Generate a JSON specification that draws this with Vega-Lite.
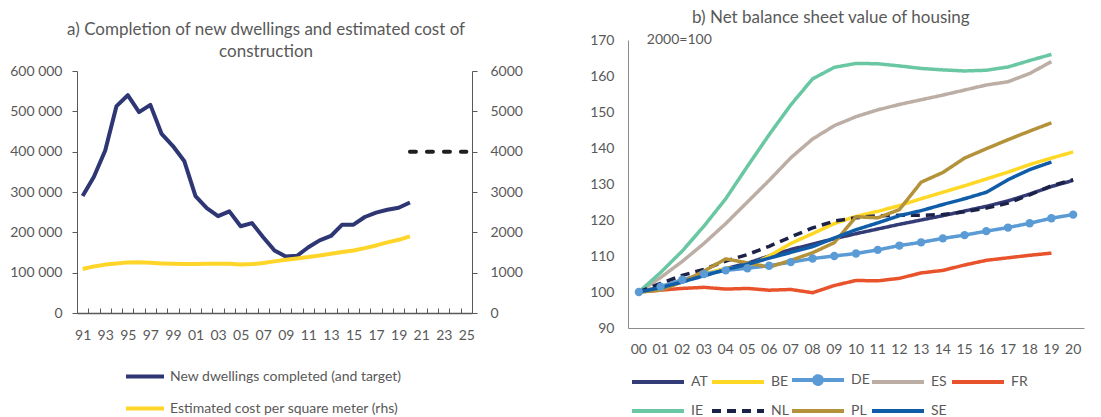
{
  "$schema": "https://vega.github.io/schema/vega-lite/v6.json",
  "background": "white",
  "padding": {"left": 9, "top": 9, "right": 5, "bottom": 0},
  "spacing": 66,
  "resolve": {"scale": {"color": "independent", "strokeDash": "independent"}, "legend": {"color": "independent", "strokeDash": "independent"}},
  "datasets": {
    "dw": [
      {"yr": "91", "dw": 290000, "cost": 1090, "tg": null},
      {"yr": "92", "dw": 338000, "cost": 1155, "tg": null},
      {"yr": "93", "dw": 403000, "cost": 1200, "tg": null},
      {"yr": "94", "dw": 513000, "cost": 1230, "tg": null},
      {"yr": "95", "dw": 540000, "cost": 1255, "tg": null},
      {"yr": "96", "dw": 498000, "cost": 1260, "tg": null},
      {"yr": "97", "dw": 516000, "cost": 1245, "tg": null},
      {"yr": "98", "dw": 444000, "cost": 1230, "tg": null},
      {"yr": "99", "dw": 414000, "cost": 1220, "tg": null},
      {"yr": "00", "dw": 377000, "cost": 1213, "tg": null},
      {"yr": "01", "dw": 290000, "cost": 1213, "tg": null},
      {"yr": "02", "dw": 260000, "cost": 1220, "tg": null},
      {"yr": "03", "dw": 240000, "cost": 1220, "tg": null},
      {"yr": "04", "dw": 252000, "cost": 1220, "tg": null},
      {"yr": "05", "dw": 215000, "cost": 1205, "tg": null},
      {"yr": "06", "dw": 223000, "cost": 1213, "tg": null},
      {"yr": "07", "dw": 188000, "cost": 1238, "tg": null},
      {"yr": "08", "dw": 155000, "cost": 1280, "tg": null},
      {"yr": "09", "dw": 140000, "cost": 1320, "tg": null},
      {"yr": "10", "dw": 142000, "cost": 1353, "tg": null},
      {"yr": "11", "dw": 163000, "cost": 1386, "tg": null},
      {"yr": "12", "dw": 180000, "cost": 1427, "tg": null},
      {"yr": "13", "dw": 191000, "cost": 1469, "tg": null},
      {"yr": "14", "dw": 219000, "cost": 1510, "tg": null},
      {"yr": "15", "dw": 219000, "cost": 1551, "tg": null},
      {"yr": "16", "dw": 238000, "cost": 1609, "tg": null},
      {"yr": "17", "dw": 249000, "cost": 1675, "tg": null},
      {"yr": "18", "dw": 256000, "cost": 1750, "tg": null},
      {"yr": "19", "dw": 261000, "cost": 1815, "tg": null},
      {"yr": "20", "dw": 274000, "cost": 1898, "tg": 400000},
      {"yr": "21", "dw": null, "cost": null, "tg": 400000},
      {"yr": "22", "dw": null, "cost": null, "tg": 400000},
      {"yr": "23", "dw": null, "cost": null, "tg": 400000},
      {"yr": "24", "dw": null, "cost": null, "tg": 400000},
      {"yr": "25", "dw": null, "cost": null, "tg": 400000}
    ],
    "bs": [
      {"yr": "00", "AT": 100, "BE": 100, "DE": 100, "ES": 100, "FR": 100, "IE": 100, "NL": 100, "PL": 100, "SE": 100},
      {"yr": "01", "AT": 101.3, "BE": 101.5, "DE": 101.5, "ES": 104, "FR": 100.5, "IE": 105.4, "NL": 102.4, "PL": 100.5, "SE": 101.2},
      {"yr": "02", "AT": 103, "BE": 103.2, "DE": 103.4, "ES": 108.5, "FR": 101, "IE": 111.4, "NL": 104.6, "PL": 102.8, "SE": 102.8},
      {"yr": "03", "AT": 104.8, "BE": 105, "DE": 105, "ES": 113.5, "FR": 101.3, "IE": 118.3, "NL": 106.3, "PL": 105.8, "SE": 104.5},
      {"yr": "04", "AT": 106.5, "BE": 106.5, "DE": 106, "ES": 119, "FR": 100.8, "IE": 125.9, "NL": 108.6, "PL": 109.2, "SE": 106.2},
      {"yr": "05", "AT": 108, "BE": 107, "DE": 106.6, "ES": 125, "FR": 101, "IE": 134.9, "NL": 110.4, "PL": 108.1, "SE": 107.7},
      {"yr": "06", "AT": 110, "BE": 110, "DE": 107.3, "ES": 131, "FR": 100.5, "IE": 143.7, "NL": 112.7, "PL": 106.9, "SE": 109.4},
      {"yr": "07", "AT": 111.8, "BE": 113.5, "DE": 108.3, "ES": 137.3, "FR": 100.7, "IE": 152, "NL": 115.3, "PL": 108.8, "SE": 111},
      {"yr": "08", "AT": 113.3, "BE": 116.2, "DE": 109.3, "ES": 142.5, "FR": 99.8, "IE": 159.2, "NL": 117.8, "PL": 110.9, "SE": 112.6},
      {"yr": "09", "AT": 114.8, "BE": 119, "DE": 110, "ES": 146.2, "FR": 101.8, "IE": 162.4, "NL": 119.7, "PL": 113.7, "SE": 115},
      {"yr": "10", "AT": 116.2, "BE": 121, "DE": 110.7, "ES": 148.7, "FR": 103.2, "IE": 163.5, "NL": 120.6, "PL": 120.9, "SE": 117.3},
      {"yr": "11", "AT": 117.5, "BE": 122.4, "DE": 111.7, "ES": 150.6, "FR": 103.1, "IE": 163.4, "NL": 121.2, "PL": 120.6, "SE": 119.2},
      {"yr": "12", "AT": 118.8, "BE": 124, "DE": 112.9, "ES": 152.1, "FR": 103.8, "IE": 162.8, "NL": 121.3, "PL": 122.9, "SE": 121.2},
      {"yr": "13", "AT": 120, "BE": 125.9, "DE": 113.8, "ES": 153.4, "FR": 105.3, "IE": 162.1, "NL": 121.3, "PL": 130.5, "SE": 122.6},
      {"yr": "14", "AT": 121.2, "BE": 127.7, "DE": 114.9, "ES": 154.7, "FR": 106, "IE": 161.7, "NL": 121.5, "PL": 133.2, "SE": 124.3},
      {"yr": "15", "AT": 122.5, "BE": 129.5, "DE": 115.8, "ES": 156.1, "FR": 107.5, "IE": 161.4, "NL": 122.3, "PL": 137.2, "SE": 125.9},
      {"yr": "16", "AT": 123.8, "BE": 131.4, "DE": 116.9, "ES": 157.5, "FR": 108.8, "IE": 161.6, "NL": 123.3, "PL": 139.8, "SE": 127.7},
      {"yr": "17", "AT": 125.3, "BE": 133.3, "DE": 117.9, "ES": 158.4, "FR": 109.5, "IE": 162.5, "NL": 124.7, "PL": 142.3, "SE": 131.2},
      {"yr": "18", "AT": 127.2, "BE": 135.4, "DE": 119.1, "ES": 160.7, "FR": 110.2, "IE": 164.3, "NL": 127, "PL": 144.7, "SE": 134},
      {"yr": "19", "AT": 129.3, "BE": 137.2, "DE": 120.5, "ES": 164, "FR": 110.8, "IE": 166, "NL": 129.5, "PL": 147, "SE": 136.1},
      {"yr": "20", "AT": 131, "BE": 138.9, "DE": 121.5, "ES": null, "FR": null, "IE": null, "NL": 131.2, "PL": null, "SE": null}
    ]
  },
  "hconcat": [
    {
      "width": 395,
      "height": 273,
      "title": {"text": ["a) Completion of new dwellings and estimated cost of", "construction"], "frame": "bounds", "anchor": "middle", "lineHeight": 22, "offset": -21},
      "data": {"name": "dw"},
      "encoding": {
        "x": {
          "field": "yr", "type": "ordinal", "bandPosition": 0.5,
          "scale": {"type": "band", "paddingInner": 0, "paddingOuter": 0,
            "domain": ["91","92","93","94","95","96","97","98","99","00","01","02","03","04","05","06","07","08","09","10","11","12","13","14","15","16","17","18","19","20","21","22","23","24","25"]},
          "axis": {"tickBand": "extent", "tickSize": -5, "labelPadding": 20, "labelAngle": 0, "domainColor": "#595959", "tickColor": "#595959", "domainWidth": 1.5, "labelOverlap": false,
            "labelExpr": "toNumber(datum.value) % 2 === 1 ? datum.label : ''"}
        }
      },
      "layer": [
        {
          "mark": {"type": "line", "strokeWidth": 4, "strokeJoin": "round"},
          "encoding": {
            "y": {"field": "dw", "type": "quantitative", "scale": {"domain": [0, 600000], "range": [273, 31]},
              "axis": {"values": [0, 100000, 200000, 300000, 400000, 500000, 600000], "format": ",d", "labelExpr": "replace(datum.label, ',', ' ')", "tickSize": 5, "labelPadding": 10, "domainColor": "#595959", "tickColor": "#595959", "labelOverlap": false}},
            "color": {"datum": "New dwellings completed (and target)", "type": "nominal",
              "scale": {"domain": ["New dwellings completed (and target)", "Estimated cost per square meter (rhs)"], "range": ["#2e3673", "#ffd52a"]},
              "legend": {"title": null, "orient": "none", "legendX": 47, "legendY": 325, "direction": "vertical", "symbolType": "M-1,0H3", "symbolSize": 361, "symbolStrokeWidth": 4, "labelFontSize": 14, "labelColor": "#595959", "rowPadding": 12, "labelOffset": 23, "labelLimit": 400}}
          }
        },
        {
          "mark": {"type": "line", "strokeWidth": 4, "strokeDash": [6, 11], "strokeCap": "round", "color": "#1f1f1f"},
          "encoding": {
            "y": {"field": "tg", "type": "quantitative", "scale": {"domain": [0, 600000], "range": [273, 31]}, "axis": null}
          }
        },
        {
          "mark": {"type": "line", "strokeWidth": 4, "strokeJoin": "round"},
          "encoding": {
            "y": {"field": "cost", "type": "quantitative", "scale": {"domain": [0, 6000], "range": [273, 31]},
              "axis": {"orient": "right", "values": [0, 1000, 2000, 3000, 4000, 5000, 6000], "format": "d", "tickSize": 5, "labelPadding": 13, "domainColor": "#595959", "tickColor": "#595959", "labelOverlap": false}},
            "color": {"datum": "Estimated cost per square meter (rhs)", "type": "nominal"}
          }
        }
      ],
      "resolve": {"scale": {"y": "independent"}}
    },
    {
      "width": 456,
      "height": 288,
      "title": {"text": "b) Net balance sheet value of housing", "frame": "bounds", "anchor": "middle", "offset": 6, "dx": -6},
      "encoding": {
        "x": {
          "field": "yr", "type": "ordinal", "bandPosition": 0.5,
          "scale": {"type": "band", "paddingInner": 0, "paddingOuter": 0,
            "domain": ["00","01","02","03","04","05","06","07","08","09","10","11","12","13","14","15","16","17","18","19","20"]},
          "axis": {"ticks": false, "labelPadding": 14, "labelAngle": 0, "domainColor": "#8c8c8c", "labelOverlap": false}
        },
        "y": {"field": "v", "type": "quantitative", "scale": {"domain": [90, 170]},
          "axis": {"values": [90, 100, 110, 120, 130, 140, 150, 160, 170], "ticks": false, "labelPadding": 14, "domainColor": "#8c8c8c", "labelOverlap": false}}
      },
      "layer": [
        {
          "data": {"name": "bs"},
          "transform": [{"fold": ["AT", "BE", "DE", "ES", "FR", "IE", "NL", "PL", "SE"], "as": ["c", "v"]}],
          "mark": {"type": "line", "strokeWidth": 3.5, "strokeJoin": "round"},
          "encoding": {
            "color": {"field": "c", "type": "nominal",
              "scale": {"domain": ["AT", "BE", "DE", "ES", "FR", "IE", "NL", "PL", "SE"],
                "range": ["#343c78", "#ffd825", "#5b9bd5", "#bcaea5", "#e8532b", "#6ac7a3", "#1b2147", "#b3923a", "#0f5ca8"]},
              "legend": {"title": null, "orient": "none", "direction": "horizontal", "legendX": 2, "legendY": 325, "columns": 5, "symbolType": "M-1,0H3", "symbolSize": 676, "symbolStrokeWidth": 4,
                "labelFontSize": 14, "labelColor": "#595959", "columnPadding": -8, "rowPadding": 4, "gridAlign": "all", "labelOffset": 31,
                "encode": {"symbols": {"update": {
                  "shape": [{"test": "datum.value === 'DE'", "value": "M-1,0H3M1.3,0A0.3,0.3,0,1,1,0.7,0A0.3,0.3,0,1,1,1.3,0Z"}, {"value": "M-1,0H3"}],
                  "fill": [{"test": "datum.value === 'DE'", "value": "#5b9bd5"}, {"value": "transparent"}]
                }}}}},
            "strokeDash": {"field": "c", "type": "nominal",
              "scale": {"domain": ["AT", "BE", "DE", "ES", "FR", "IE", "NL", "PL", "SE"],
                "range": [[1, 0], [1, 0], [1, 0], [1, 0], [1, 0], [1, 0], [9, 6], [1, 0], [1, 0]]},
              "legend": {"title": null, "orient": "none", "direction": "horizontal", "legendX": 2, "legendY": 325, "columns": 5, "symbolType": "M-1,0H3", "symbolSize": 676, "symbolStrokeWidth": 4,
                "labelFontSize": 14, "labelColor": "#595959", "columnPadding": -8, "rowPadding": 4, "gridAlign": "all", "labelOffset": 31}}
          }
        },
        {
          "data": {"name": "bs"},
          "transform": [{"fold": ["DE"], "as": ["c", "v"]}],
          "mark": {"type": "point", "filled": true, "opacity": 1, "size": 70, "color": "#5b9bd5"}
        },
        {
          "data": {"values": [{"t": "2000=100", "yr": "02", "v": 170}]},
          "mark": {"type": "text", "fontSize": 14, "color": "#595959", "align": "center", "baseline": "middle", "dx": -3},
          "encoding": {
            "text": {"field": "t"}
          }
        }
      ]
    }
  ],
  "config": {
    "font": "Lato",
    "view": {"stroke": null},
    "axis": {"labelColor": "#595959", "labelFontSize": 14, "grid": false, "title": null, "domainColor": "#8c8c8c"},
    "title": {"color": "#595959", "fontSize": 17, "fontWeight": "normal"},
    "legend": {"labelFont": "Lato"}
  }
}
